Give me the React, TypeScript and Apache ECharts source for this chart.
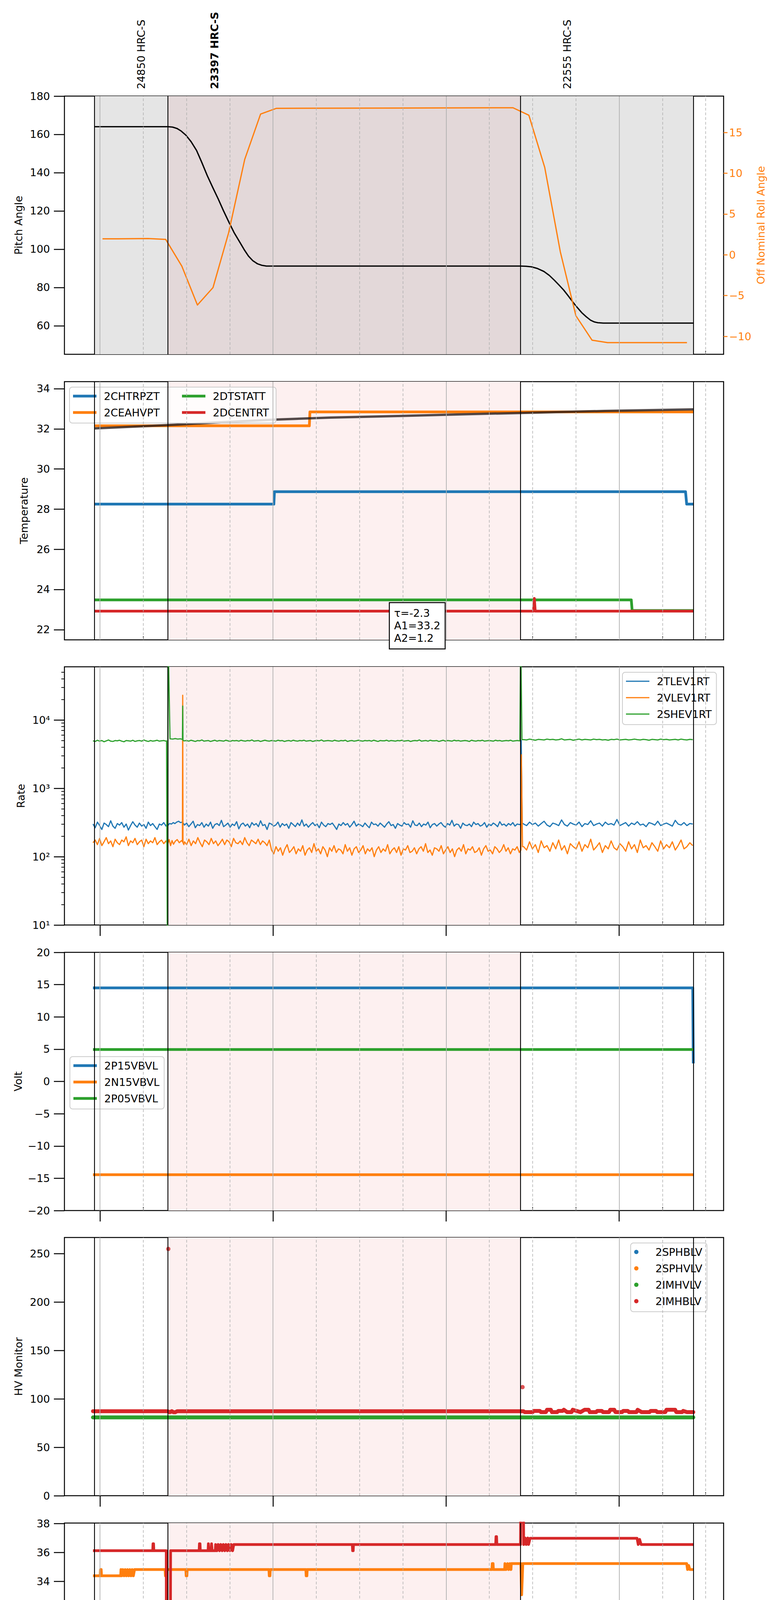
import React, { useEffect, useRef } from "react";
import * as echarts from "echarts";

const FONT = "DejaVu Sans";
const BLUE = "#1f77b4";
const ORANGE = "#ff7f0e";
const GREEN = "#2ca02c";
const RED = "#d62728";

// ---------- time axis: minutes after 15:00 on 2020-10-26 (day 300) ----------
const T_RANGE = [-12.3, 216.2];
const HOUR_TICKS = [0, 60, 120, 180];
const QUARTER_TICKS = [15, 30, 45, 75, 90, 105, 135, 150, 165, 195, 210];
const HOUR_BASE = 15;
const DATE_LABEL = "2020-10-26 (300)";

// ---------- observations ----------
const OBSIDS = ["24850", "23397", "22555"];
const OBS_START = [-1.9, 23.6, 145.8];
const OBS_END = [23.6, 145.8, 205.7];
const FOCUS_OBS = 1;
const OBS_LABEL_SHIFT = 16.2;

// ---------- panel 1: pitch / roll ----------
const PITCH_T = [-1.9, 23.7, 25.2, 26.7, 28.2, 29.8, 31.6, 33.5, 35.3, 37.2, 39.1, 41.0, 42.8, 44.7, 46.5, 48.4, 50.0, 51.5, 53.0, 54.6, 56.1, 57.7, 60.0,
  145.8, 147.7, 149.6, 151.7, 153.9, 155.8, 157.6, 159.2, 160.8, 162.4, 163.9, 165.5, 167.0, 168.6, 170.1, 171.4, 172.6, 174.5, 205.7];
const PITCH_V = [164, 164, 163.8, 163.1, 161.7, 159.6, 156.2, 151.6, 145.4, 138.5, 132.3, 126.3, 120.2, 114.2, 108.7, 103.9, 99.8, 96.4, 94.0, 92.4, 91.6, 91.2, 91.2,
  91.2, 91.1, 90.8, 89.9, 88.4, 86.3, 83.7, 81.2, 78.6, 75.5, 72.5, 69.5, 66.9, 64.7, 62.9, 62.0, 61.6, 61.4, 61.4];
const ROLL_T = [0.9, 6.2, 16.7, 22.8, 28.4, 33.8, 39.2, 44.6, 50.2, 55.7, 61.2, 143.2, 148.7, 154.2, 159.6, 165.0, 170.6, 176.0, 203.5];
const ROLL_V = [1.96, 1.96, 2.0, 1.89, -1.39, -6.16, -4.02, 2.68, 11.7, 17.26, 17.96, 18.03, 17.11, 10.71, 0.37, -7.48, -10.47, -10.77, -10.77];

// ---------- panel 2: temperature ----------
const T_2CHTRPZT = [[-1.9, 28.25], [60.3, 28.25], [60.5, 28.87], [203.0, 28.87], [203.4, 28.25], [205.7, 28.25]];
const T_2CEAHVPT = [[-1.9, 32.15], [72.6, 32.15], [72.8, 32.84], [205.7, 32.84]];
const T_2DTSTATT = [[-1.9, 23.48], [184.2, 23.48], [184.5, 22.95], [205.7, 22.95]];
const T_2DCENTRT = [[-1.9, 22.92], [150.3, 22.92], [150.6, 23.55], [150.9, 22.92], [205.7, 22.92]];
const TEMP_FIT = [[-1.9, 32.02], [10, 32.1], [25.7, 32.2], [40, 32.31], [60.3, 32.46], [80, 32.56], [103.4, 32.64], [125, 32.72], [145.8, 32.79], [175, 32.89], [205.7, 32.97]];
const FIT_TEXT = ["τ=-2.3", "A1=33.2", "A2=1.2"];
const FIT_BOX_T = 100.5;
const FIT_BOX_V = 23.32;

// ---------- panel 3: rates (segments: before, transient, dense, transient, after) ----------
const SEG_A = [-2.4, 22.9];
const SEG_B = [29.3, 145.4];
const SEG_C = [146.9, 205.5];

const RATE_A_BLUE = [300, 265, 320, 285, 250, 310, 295, 275, 335, 280, 260, 305, 290, 315, 270, 300, 245, 285, 325, 290, 270, 310, 280, 295, 260, 320, 285, 305, 275, 250, 300, 290, 315, 280];
const RATE_T1_BLUE = [[23.1, 290], [23.4, 280], [24.1, 305], [24.8, 300], [25.4, 315], [26.0, 305], [26.6, 320], [27.3, 330], [27.9, 315], [28.5, 320], [29.0, 305]];
const RATE_B_BLUE = [
  290, 310, 275, 300, 330, 265, 295, 285, 315, 270,
  300, 280, 320, 260, 295, 305, 285, 340, 275, 290,
  310, 270, 300, 285, 325, 255, 295, 310, 280, 300,
  265, 315, 290, 305, 275, 335, 285, 295, 250, 310,
  300, 280, 290, 320, 270, 305, 285, 300, 260, 315,
  295, 275, 310, 285, 345, 280, 300, 270, 295, 315,
  285, 300, 265, 320, 290, 275, 305, 295, 310, 280,
  250, 300, 285, 315, 290, 305, 270, 295, 330, 280,
  300, 290, 275, 310, 285, 265, 320, 295, 300, 280,
  310, 290, 270, 300, 325, 285, 295, 260, 305, 290,
  280, 315, 295, 300, 270, 335, 290, 285, 310, 275,
  300, 290, 320, 265, 295, 305, 280, 300, 315, 285,
  270, 305, 290, 340, 280, 300, 295, 260, 310, 290,
  285, 300, 275, 320, 295, 305, 280, 290, 315, 270,
  300, 285, 310, 295, 275, 325, 290, 300, 280, 305,
  290, 315, 280, 300, 295];
const RATE_T2_BLUE = [[145.6, 295], [145.9, 300], [146.05, 5000], [146.4, 310]];
const RATE_C_BLUE = [300, 285, 320, 295, 310, 280, 305, 330, 290, 275, 310, 300, 285, 345, 295, 280, 315, 300, 290, 320, 275, 305, 295, 335, 285, 300, 310, 280, 320, 295, 305, 290, 350, 285, 300, 315, 280, 310, 295, 325, 290, 300, 275, 315, 305, 290, 330, 285, 300, 310, 295, 280, 340, 300, 290, 315, 285, 305, 300];

const RATE_A_ORANGE = [160, 175, 150, 185, 145, 165, 190, 155, 170, 140, 180, 160, 150, 175, 165, 195, 145, 170, 160, 185, 150, 165, 175, 140, 180, 155, 170, 160, 190, 150, 165, 175, 155, 170];
const RATE_T1_ORANGE = [[23.1, 165], [23.4, 150], [24.0, 178], [24.5, 145], [25.0, 172], [25.5, 152], [26.1, 168], [26.8, 178], [27.5, 160], [28.3, 172], [28.6, 165], [28.7, 23000], [28.8, 160], [29.1, 150]];
const RATE_B_ORANGE = [
  165, 150, 180, 145, 170, 155, 190, 160, 140, 175,
  165, 150, 185, 155, 170, 145, 160, 180, 150, 175,
  165, 140, 185, 160, 155, 170, 150, 190, 160, 145,
  175, 165, 155, 180, 150, 170, 160, 145, 175,
  125, 110, 140, 120, 135, 105, 130, 150, 115, 125,
  140, 110, 130, 120, 145, 105, 125, 135, 115, 155,
  120, 130, 110, 140, 125, 100, 135, 120, 145, 115,
  130, 125, 110, 150, 120, 135, 105, 130, 140, 115,
  125, 145, 110, 130, 120, 135, 100, 125, 140, 115,
  130, 120, 150, 110, 125, 135, 115, 140, 105, 130,
  125, 145, 115, 120, 135, 110, 130, 140, 120, 155,
  115, 125, 105, 135, 130, 120, 145, 110, 125, 140,
  115, 130, 100, 125, 135, 120, 150, 110, 130, 125,
  140, 115, 120, 135, 105, 130, 145, 120, 125, 110,
  140, 130, 115, 125, 150, 120, 135, 110, 130, 125,
  140, 115];
const RATE_T2_ORANGE = [[145.6, 120], [145.95, 125], [146.1, 3100], [146.5, 140]];
const RATE_C_ORANGE = [140, 125, 165, 130, 150, 115, 170, 135, 145, 120, 160, 130, 175, 125, 145, 110, 155, 140, 130, 165, 120, 150, 135, 180, 125, 140, 160, 115, 145, 130, 170, 135, 125, 155, 140, 120, 165, 130, 150, 115, 175, 135, 145, 125, 160, 140, 120, 170, 130, 150, 135, 165, 125, 145, 175, 130, 140, 160, 145];

const RATE_A_GREEN = [4950, 4850, 5050, 4900, 5000, 4800, 4950, 5100, 4900, 4850, 5000, 4950, 5050, 4900, 4800, 5000, 4950, 4900, 5050, 4850, 4950, 5000, 4900, 5100, 4950, 4850, 5000, 4900, 4950, 5050, 4900, 4950, 5000, 4900];
const RATE_T1_GREEN = [[23.1, 4950], [23.45, 0.5], [23.6, 200000], [24.3, 5300], [25.2, 5250], [26.1, 5350], [27.0, 5250], [27.9, 5300], [28.6, 5200], [28.7, 16000], [28.8, 5050], [29.1, 4950]];
const RATE_B_GREEN = [
  4950, 5000, 4900, 5050, 4950, 4850, 5000, 4950, 5100, 4900,
  4950, 5000, 4850, 4950, 5050, 4900, 5000, 4950, 4900, 5050,
  4950, 4850, 5000, 4950, 5000, 4900, 5050, 4950, 4900, 5000,
  4950, 5100, 4900, 4950, 5000, 4850, 4950, 5050, 4950, 4900,
  5000, 4950, 4900, 5050, 4950, 5000, 4850, 4950, 5000, 4900,
  5050, 4950, 4900, 5000, 4950, 5050, 4900, 4950, 5000, 4850,
  4950, 5000, 4950, 5100, 4900, 4950, 5000, 4950, 4900, 5050,
  4950, 4900, 5000, 4950, 5050, 4850, 4950, 5000, 4900, 4950,
  5050, 4950, 4900, 5000, 4950, 5000, 4900, 5050, 4950, 4850,
  5000, 4950, 4950, 5050, 4900, 5000, 4950, 4900, 5000, 4950,
  5050, 4900, 4950, 5000, 4850, 4950, 5000, 4950, 5100, 4900,
  4950, 5000, 4900, 5050, 4950, 4950, 5000, 4850, 4950, 5050,
  4900, 5000, 4950, 4900, 5050, 4950, 5000, 4900, 4950, 5000,
  4950, 4850, 5050, 4950, 4900, 5000, 4950, 5050, 4900, 4950,
  5000, 4950, 4900, 5050, 4950, 5000, 4900, 4950, 5000, 4950,
  5050, 4900, 4950, 5000, 4950];
const RATE_T2_GREEN = [[145.6, 4950], [145.85, 200000], [146.3, 5150]];
const RATE_C_GREEN = [5150, 5100, 5250, 5150, 5050, 5200, 5150, 5100, 5250, 5150, 5200, 5100, 5150, 5300, 5100, 5150, 5200, 5050, 5150, 5250, 5100, 5200, 5150, 5100, 5250, 5150, 5200, 5100, 5150, 5050, 5200, 5150, 5250, 5100, 5150, 5200, 5100, 5150, 5250, 5150, 5100, 5200, 5150, 5050, 5200, 5150, 5100, 5250, 5150, 5200, 5100, 5150, 5200, 5100, 5250, 5150, 5100, 5200, 5150];
const RATE_TICKS = [10, 100, 1000, 10000];
const RATE_MINOR = [20, 30, 40, 50, 60, 70, 80, 90, 200, 300, 400, 500, 600, 700, 800, 900, 2000, 3000, 4000, 5000, 6000, 7000, 8000, 9000, 20000, 30000, 40000, 50000];

// ---------- panel 4: volt ----------
const V_2P15VBVL = [[-2.4, 14.5], [205.5, 14.5], [205.7, 2.8]];
const V_2N15VBVL = [[-2.4, -14.45], [205.7, -14.45]];
const V_2P05VBVL = [[-2.4, 4.95], [205.7, 4.95]];

// ---------- panel 5: HV monitor ----------
const HV_2SPHBLV: number[][] = [];
const HV_2SPHVLV: number[][] = [];
const HV_2IMHVLV = [[-2.4, 80.9], [205.7, 80.9]];
const HV_2IMHBLV = [[-2.4, 87.3], [23.5, 87.3], [24.2, 86.2], [24.9, 87.3], [25.5, 86.2], [26.1, 86.2], [26.8, 87.3], [145.8, 87.3], [146.8, 87.3], [147.3, 86.3], [150.0, 86.3], [150.4, 87.6], [152.5, 87.6], [152.9, 86.3], [154.6, 86.3], [155.0, 88.8], [156.3, 88.8], [156.7, 86.3], [158.5, 86.3], [158.9, 87.6], [160.4, 87.6], [160.8, 88.8], [162.0, 86.3], [163.5, 86.3], [163.9, 88.8], [165.2, 87.6], [166.6, 86.3], [168.0, 88.8], [169.4, 88.8], [169.8, 86.3], [172.0, 86.3], [172.4, 87.6], [174.0, 87.6], [174.4, 86.3], [176.5, 86.3], [176.9, 88.8], [178.3, 88.8], [178.7, 86.3], [181.0, 86.3], [181.4, 87.6], [183.0, 87.6], [183.4, 86.3], [186.0, 86.3], [186.4, 88.8], [187.8, 86.3], [190.5, 86.3], [190.9, 87.6], [192.8, 87.6], [193.2, 86.3], [196.0, 86.3], [196.4, 88.8], [199.4, 88.8], [199.8, 86.3], [201.8, 86.3], [202.2, 87.6], [203.5, 86.3], [205.7, 86.3]];
const HV_2IMHBLV_OUTLIERS = [[23.7, 254.9], [146.5, 112.2]];

// ---------- panel 6: detector temp ----------
const D_2SPINATM = [[-2.4, 21.69], [205.7, 21.69]];
const D_2SPHVATM = [[-2.4, 34.39], [0.1, 34.39], [0.2, 34.82], [0.45, 34.82], [0.55, 34.39], [7.2, 34.39], [7.3, 34.82], [7.6, 34.39], [8.0, 34.82], [8.4, 34.39], [8.8, 34.82], [9.2, 34.39], [9.6, 34.82], [10.0, 34.39], [10.4, 34.82], [10.8, 34.39], [11.2, 34.82], [11.6, 34.39], [12.0, 34.82], [22.6, 34.82], [22.7, 34.39], [22.95, 34.39], [23.05, 34.82], [29.8, 34.82], [29.9, 34.39], [30.15, 34.39], [30.25, 34.82], [58.6, 34.82], [58.7, 34.39], [58.95, 34.39], [59.05, 34.82], [71.4, 34.82], [71.5, 34.39], [71.75, 34.39], [71.85, 34.82], [135.9, 34.82], [136.0, 35.23], [136.3, 35.23], [136.4, 34.82], [140.3, 34.82], [140.4, 35.23], [140.8, 34.82], [141.3, 35.23], [141.7, 34.82], [142.1, 35.23], [142.5, 34.82], [142.6, 35.23], [145.9, 35.23], [146.2, 33.08], [146.6, 35.23], [203.4, 35.23], [203.7, 34.82], [204.1, 35.1], [204.5, 34.82], [205.7, 34.82]];
const D_2IMINATM = [[-2.4, 23.15], [24.3, 23.15], [24.4, 19], [24.55, 19], [24.65, 23.15], [146.2, 23.15], [146.3, 19], [146.7, 19], [146.8, 23.15], [205.7, 23.15]];
const D_2IMHVATM = [[-2.4, 36.12], [18.3, 36.12], [18.4, 36.6], [18.6, 36.6], [18.7, 36.12], [23.0, 36.12], [23.1, 19], [24.3, 19], [24.5, 36.12], [34.4, 36.12], [34.5, 36.6], [34.7, 36.6], [34.8, 36.12], [37.5, 36.12], [37.6, 36.6], [37.8, 36.12], [38.6, 36.12], [38.7, 36.6], [38.9, 36.12], [40.0, 36.12], [40.1, 36.55], [40.6, 36.12], [41.0, 36.55], [41.5, 36.12], [41.9, 36.55], [42.4, 36.12], [42.8, 36.55], [43.3, 36.12], [43.7, 36.55], [44.2, 36.12], [44.6, 36.55], [45.1, 36.12], [45.5, 36.55], [46.0, 36.12], [46.4, 36.55], [87.5, 36.55], [87.6, 36.12], [87.8, 36.12], [87.9, 36.55], [137.2, 36.55], [137.3, 37.09], [137.5, 37.09], [137.6, 36.55], [145.8, 36.55], [145.9, 40], [146.8, 40], [146.9, 36.55], [147.4, 37.0], [147.8, 36.55], [148.3, 37.0], [148.6, 36.55], [149.1, 36.98], [186.2, 36.98], [186.6, 36.55], [187.1, 36.9], [187.6, 36.55], [205.7, 36.55]];

// ---------- panel 7: FEA temp ----------
const F_2FHTRMZT = [[-2.4, 26.39], [82.8, 26.39], [83.1, 25.79], [125.0, 25.79], [125.3, 25.21], [168.8, 25.21], [169.1, 24.63], [180.1, 24.63], [180.3, 25.21], [181.3, 25.21], [181.5, 24.63], [182.0, 24.63], [182.2, 25.21], [205.9, 25.21]];
const F_2FRADPYT = [[-2.4, 21.81], [55.4, 21.81], [55.6, 21.28], [68.5, 21.28], [68.7, 20.75], [87.3, 20.75], [87.5, 20.21], [114.3, 20.21], [114.5, 19.69], [147.8, 19.69], [148.1, 19.18], [167.2, 19.18], [167.4, 19.69], [176.3, 19.69], [176.5, 20.21], [193.5, 20.21], [193.7, 20.74], [205.9, 20.74]];
const F_2FEPRATM = [[-2.4, 27.75], [23.5, 27.75], [23.6, 31], [24.3, 15], [24.4, 27.75], [83.9, 27.75], [84.0, 26.95], [84.2, 26.95], [84.3, 27.75], [88.0, 27.75], [88.1, 26.95], [88.5, 27.75], [88.9, 26.95], [89.3, 27.75], [89.6, 26.95], [145.9, 26.95], [146.0, 31], [147.0, 31], [147.1, 26.95], [159.4, 26.95], [159.7, 26.17], [205.7, 26.17]];
const F_2FE00ATM = [[-2.4, 25.28], [19.2, 25.28], [19.3, 25.65], [19.5, 25.65], [19.6, 25.28], [23.0, 25.28], [23.1, 15], [24.5, 15], [24.6, 25.28], [43.6, 25.28], [43.7, 25.65], [43.9, 25.65], [44.0, 25.28], [45.1, 25.28], [45.2, 24.93], [45.4, 24.93], [45.5, 25.28], [48.8, 25.28], [48.9, 25.65], [49.1, 25.65], [49.2, 25.28], [70.2, 25.28], [70.3, 24.93], [70.5, 24.93], [70.6, 25.28], [73.0, 25.28], [73.1, 23.94], [73.3, 23.94], [73.4, 25.28], [80.8, 25.28], [80.9, 24.59], [81.1, 24.59], [81.2, 25.28], [84.0, 25.28], [84.1, 24.95], [84.6, 25.28], [85.2, 24.95], [85.6, 25.28], [85.8, 24.95], [89.3, 24.95], [89.4, 25.28], [90.0, 25.28], [90.1, 24.95], [93.2, 24.95], [93.3, 25.65], [93.5, 24.95], [95.1, 24.95], [95.2, 25.28], [95.4, 24.95], [102.3, 24.95], [102.4, 22.63], [102.6, 22.63], [102.7, 24.95], [113.7, 24.95], [113.8, 24.61], [114.3, 24.95], [115.0, 24.61], [115.5, 24.95], [116.3, 24.95], [116.4, 24.61], [118.2, 24.61], [118.3, 25.65], [118.5, 24.61], [122.2, 24.61], [122.3, 25.0], [122.5, 24.61], [141.2, 24.61], [141.3, 24.29], [141.5, 24.61], [142.9, 24.61], [143.0, 24.29], [143.2, 24.61], [145.5, 24.61], [145.6, 24.29], [145.9, 24.29], [146.0, 15], [146.9, 15], [147.0, 24.29], [150.8, 24.29], [151.2, 24.95], [151.6, 24.29], [205.7, 24.29]];

// ---------- y axes per panel ----------
const PANEL_Y = [
  { name: "Pitch Angle", min: 45.1, max: 180, ticks: [60, 80, 100, 120, 140, 160, 180], gap: 104 },
  { name: "Temperature", min: 21.49, max: 34.35, ticks: [22, 24, 26, 28, 30, 32, 34], gap: 90 },
  { name: "Rate", min: 10, max: 60000, ticks: RATE_TICKS, gap: 98 },
  { name: "Volt", min: -20, max: 20, ticks: [-20, -15, -10, -5, 0, 5, 10, 15, 20], gap: 103 },
  { name: "HV Monitor", min: 0, max: 266.7, ticks: [0, 50, 100, 150, 200, 250], gap: 104 },
  { name: "Detector Temp", min: 20.21, max: 38.03, ticks: [22, 24, 26, 28, 30, 32, 34, 36, 38], gap: 87 },
  { name: "FEA Temp", min: 18.19, max: 29.26, ticks: [20, 22, 24, 26, 28], gap: 85 },
];
const ROLL_Y = { name: "Off Nominal Roll Angle", min: -12.2, max: 19.46, ticks: [-10, -5, 0, 5, 10, 15], gap: 80 };

// layout
const GRID_LEFT = 165;
const GRID_W = 1688;
const GRID_H = 661;
const GRID_TOP = [246, 977, 1707, 2438, 3168, 3899, 4629];

const SUP = ["⁰", "¹", "²", "³", "⁴", "⁵", "⁶"];
const fmtNum = (v: number) => (v < 0 ? "\u2212" + Math.abs(v) : String(v));
const sampled = (range: number[], vals: number[]) => {
  const st = (range[1] - range[0]) / (vals.length - 1);
  return vals.map((v, i) => [range[0] + i * st, v]);
};
const pairs = (t: number[], v: number[]) => t.map((x, i) => [x, v[i]]);
const NO_LINE = { show: false, onZero: false };

function buildOption() {
  const grid = GRID_TOP.map((top) => ({
    left: GRID_LEFT, top, width: GRID_W, height: GRID_H,
    show: true, borderColor: "#000", borderWidth: 2.5, backgroundColor: "rgba(0,0,0,0)",
    containLabel: false, outerBoundsMode: "none",
  }));

  const xAxis: any[] = [];
  GRID_TOP.forEach((_, i) => {
    const last = i === GRID_TOP.length - 1;
    xAxis.push({
      type: "value", gridIndex: i, min: T_RANGE[0], max: T_RANGE[1], position: "bottom",
      axisLine: NO_LINE, splitLine: { show: false },
      axisTick: { show: i >= 2, customValues: HOUR_TICKS, length: 28, inside: false, lineStyle: { color: "#000", width: 2.5 } },
      axisLabel: { show: last, customValues: HOUR_TICKS, formatter: (v: number) => `${HOUR_BASE + v / 60}h`, fontSize: 27, fontFamily: FONT, color: "#000", margin: 36 },
      name: last ? DATE_LABEL : "", nameLocation: "middle", nameGap: 70,
      nameTextStyle: { fontSize: 32, fontFamily: FONT, color: "#000" },
    });
    xAxis.push({
      type: "value", gridIndex: i, min: T_RANGE[0], max: T_RANGE[1], position: "bottom",
      axisLine: NO_LINE, splitLine: { show: false },
      axisTick: { show: true, customValues: QUARTER_TICKS, length: 9, inside: true, lineStyle: { color: "#000", width: 1.8 } },
      axisLabel: { show: last, customValues: QUARTER_TICKS, formatter: (v: number) => String(v % 60), fontSize: 18, fontFamily: FONT, color: "#000", margin: 6 },
    });
  });

  const yAxis: any[] = [];
  const mainY: number[] = [];
  PANEL_Y.forEach((p, i) => {
    mainY.push(yAxis.length);
    const isLog = i === 2;
    yAxis.push({
      type: isLog ? "log" : "value", logBase: 10, gridIndex: i, min: p.min, max: p.max, position: "left",
      axisLine: NO_LINE, splitLine: { show: false },
      axisTick: { show: true, customValues: p.ticks, length: 27, lineStyle: { color: "#000", width: 2.5 } },
      axisLabel: {
        customValues: p.ticks, fontSize: 27, fontFamily: FONT, color: "#000", margin: 37,
        formatter: isLog ? (v: number) => "10" + SUP[Math.round(Math.log10(v))] : fmtNum,
      },
      name: p.name, nameLocation: "middle", nameGap: p.gap,
      nameTextStyle: { fontSize: 27, fontFamily: FONT, color: "#000" },
    });
    if (i === 0) {
      yAxis.push({
        type: "value", gridIndex: 0, min: ROLL_Y.min, max: ROLL_Y.max, position: "right",
        axisLine: NO_LINE, splitLine: { show: false },
        axisTick: { show: true, customValues: ROLL_Y.ticks, length: 10, lineStyle: { color: ORANGE, width: 2.5 } },
        axisLabel: { customValues: ROLL_Y.ticks, fontSize: 27, fontFamily: FONT, color: ORANGE, margin: 14, formatter: fmtNum },
        name: ROLL_Y.name, nameLocation: "middle", nameGap: ROLL_Y.gap, nameRotate: 90,
        nameTextStyle: { fontSize: 27, fontFamily: FONT, color: ORANGE },
      });
    }
    if (isLog) {
      yAxis.push({
        type: "log", logBase: 10, gridIndex: i, min: p.min, max: p.max, position: "left",
        axisLine: NO_LINE, splitLine: { show: false },
        axisTick: { show: true, customValues: RATE_MINOR, length: 8, lineStyle: { color: "#000", width: 1.8 } },
        axisLabel: { show: false },
      });
    }
  });

  const series: any[] = [];
  const bounds = Array.from(new Set([...OBS_START, ...OBS_END]));
  GRID_TOP.forEach((_, i) => {
    const areas = i === 0
      ? OBSIDS.map((_o, k) => [{ xAxis: OBS_START[k], itemStyle: { color: k === FOCUS_OBS ? "#e3d8d9" : "#e5e5e5" } }, { xAxis: OBS_END[k] }])
      : [[{ xAxis: OBS_START[FOCUS_OBS], itemStyle: { color: "#fdf0f0" } }, { xAxis: OBS_END[FOCUS_OBS] }]];
    series.push({
      type: "line", xAxisIndex: 2 * i, yAxisIndex: mainY[i], data: [], silent: true, z: 1,
      markArea: { silent: true, data: areas, label: { show: false } },
    });
    series.push({
      type: "line", xAxisIndex: 2 * i, yAxisIndex: mainY[i], data: [], silent: true, z: 2,
      markLine: {
        silent: true, symbol: ["none", "none"], label: { show: false },
        data: [
          ...QUARTER_TICKS.map((t) => ({ xAxis: t, lineStyle: { color: "#b0b0b0", width: 1.5, type: [7, 5] } })),
          ...HOUR_TICKS.map((t) => ({ xAxis: t, lineStyle: { color: "#b0b0b0", width: 1.8, type: "solid" } })),
          ...bounds.map((t) => ({ xAxis: t, lineStyle: { color: "#000", width: 2.2, type: "solid" } })),
        ],
      },
    });
  });

  const line = (name: string, data: any[], color: string, width: number, gi: number, yi: number, extra: any = {}) => ({
    name, type: "line", xAxisIndex: 2 * gi, yAxisIndex: yi, data, symbol: "none", showSymbol: false,
    lineStyle: { color, width, join: "round" }, itemStyle: { color }, z: 3, silent: true,
    emphasis: { disabled: true }, ...extra,
  });

  // panel 1
  series.push(line("Pitch", pairs(PITCH_T, PITCH_V), "#000", 3.4, 0, 0));
  series.push(line("Roll", pairs(ROLL_T, ROLL_V), ORANGE, 3.2, 0, 1));
  // panel 2
  const W = 7;
  series.push(line("2CHTRPZT", T_2CHTRPZT, BLUE, W, 1, mainY[1]));
  series.push(line("2CEAHVPT", T_2CEAHVPT, ORANGE, W, 1, mainY[1]));
  series.push(line("2DTSTATT", T_2DTSTATT, GREEN, W, 1, mainY[1]));
  series.push(line("2DCENTRT", T_2DCENTRT, RED, W, 1, mainY[1]));
  series.push(line("fit", TEMP_FIT, "rgba(40,30,30,0.8)", 6, 1, mainY[1]));
  // panel 3
  const rate = (a: number[], t1: number[][], b: number[], t2: number[][], c: number[]) =>
    [...sampled(SEG_A, a), ...t1, ...sampled(SEG_B, b), ...t2, ...sampled(SEG_C, c)];
  series.push(line("2TLEV1RT", rate(RATE_A_BLUE, RATE_T1_BLUE, RATE_B_BLUE, RATE_T2_BLUE, RATE_C_BLUE), BLUE, 3, 2, mainY[2]));
  series.push(line("2VLEV1RT", rate(RATE_A_ORANGE, RATE_T1_ORANGE, RATE_B_ORANGE, RATE_T2_ORANGE, RATE_C_ORANGE), ORANGE, 3, 2, mainY[2]));
  series.push(line("2SHEV1RT", rate(RATE_A_GREEN, RATE_T1_GREEN, RATE_B_GREEN, RATE_T2_GREEN, RATE_C_GREEN), GREEN, 3, 2, mainY[2]));
  // panel 4
  series.push(line("2P15VBVL", V_2P15VBVL, BLUE, W, 3, mainY[3]));
  series.push(line("2N15VBVL", V_2N15VBVL, ORANGE, W, 3, mainY[3]));
  series.push(line("2P05VBVL", V_2P05VBVL, GREEN, W, 3, mainY[3]));
  // panel 5
  const hv = (name: string, data: any[], color: string) => ({
    ...line(name, data, color, 10, 4, mainY[4]),
    lineStyle: { color, width: 10, cap: "round", join: "round" },
  });
  series.push(hv("2SPHBLV", HV_2SPHBLV, BLUE));
  series.push(hv("2SPHVLV", HV_2SPHVLV, ORANGE));
  series.push(hv("2IMHVLV", HV_2IMHVLV, GREEN));
  series.push(hv("2IMHBLV", HV_2IMHBLV, RED));
  series.push({
    name: "2IMHBLV", type: "scatter", xAxisIndex: 8, yAxisIndex: mainY[4], data: HV_2IMHBLV_OUTLIERS,
    symbol: "circle", symbolSize: 11, itemStyle: { color: RED }, z: 4, silent: true,
  });
  // panel 6
  series.push(line("2SPINATM", D_2SPINATM, BLUE, W, 5, mainY[5]));
  series.push(line("2SPHVATM", D_2SPHVATM, ORANGE, W, 5, mainY[5]));
  series.push(line("2IMINATM", D_2IMINATM, GREEN, W, 5, mainY[5]));
  series.push(line("2IMHVATM", D_2IMHVATM, RED, W, 5, mainY[5]));
  // panel 7
  series.push(line("2FHTRMZT", F_2FHTRMZT, BLUE, W, 6, mainY[6]));
  series.push(line("2FRADPYT", F_2FRADPYT, ORANGE, W, 6, mainY[6]));
  series.push(line("2FEPRATM", F_2FEPRATM, GREEN, W, 6, mainY[6]));
  series.push(line("2FE00ATM", F_2FE00ATM, RED, W, 6, mainY[6]));

  const legendBase = {
    itemWidth: 60, itemHeight: 7, itemGap: 10, padding: [7, 12, 11, 9], icon: "rect",
    backgroundColor: "rgba(255,255,255,0.8)", borderColor: "#cccccc", borderWidth: 2, borderRadius: 7,
    selectedMode: false,
    textStyle: { fontSize: 27, fontFamily: FONT, color: "#000", lineHeight: 32, padding: [0, 0, 0, 14] },
  };
  const legend = [
    {
      ...legendBase, left: 178, top: 991, orient: "horizontal", width: 540,
      data: [
        { name: "2CHTRPZT", textStyle: { width: 190 } },
        { name: "2DTSTATT", textStyle: { width: 150 } },
        { name: "2CEAHVPT", textStyle: { width: 190 } },
        { name: "2DCENTRT", textStyle: { width: 150 } },
      ],
    },
    { ...legendBase, left: 1594, top: 1721, orient: "vertical", itemHeight: 3.2, data: ["2TLEV1RT", "2VLEV1RT", "2SHEV1RT"] },
    { ...legendBase, left: 179, top: 2705, orient: "vertical", data: ["2P15VBVL", "2N15VBVL", "2P05VBVL"] },
    { ...legendBase, left: 1615, top: 3182, orient: "vertical", icon: "circle", itemHeight: 11, data: ["2SPHBLV", "2SPHVLV", "2IMHVLV", "2IMHBLV"] },
    { ...legendBase, left: 1592, top: 4141, orient: "vertical", data: ["2SPINATM", "2SPHVATM", "2IMINATM", "2IMHVATM"] },
    { ...legendBase, left: 179, top: 5101, orient: "vertical", data: ["2FHTRMZT", "2FRADPYT", "2FEPRATM", "2FE00ATM"] },
  ];

  return {
    option: {
      animation: false,
      backgroundColor: "#fff",
      textStyle: { fontFamily: FONT },
      grid, xAxis, yAxis, series, legend,
    },
    mainY,
  };
}

export default function App() {
  const ref = useRef<HTMLDivElement>(null);
  useEffect(() => {
    if (!ref.current) return;
    document.body.style.margin = "0";
    const chart = echarts.init(ref.current, null, { renderer: "svg", width: 2000, height: 5400 });
    const { option, mainY } = buildOption();
    chart.setOption(option);

    const xPix = (t: number) => chart.convertToPixel({ xAxisIndex: 0 }, t) as number;
    const yPix = (yi: number, v: number) => chart.convertToPixel({ yAxisIndex: yi }, v) as number;
    const topY = yPix(mainY[0], PANEL_Y[0].max);
    const graphic: any[] = OBSIDS.map((id, k) => ({
      type: "text", z: 100,
      x: xPix(OBS_START[k] + OBS_LABEL_SHIFT), y: topY - 18, rotation: Math.PI / 2,
      style: {
        text: `${id} HRC-S`, fontSize: 27, fontFamily: FONT, fontWeight: k === FOCUS_OBS ? "bold" : "normal",
        fill: "#000", align: "left", verticalAlign: "middle",
      },
    }));
    graphic.push({
      type: "text", z: 100,
      x: chart.convertToPixel({ xAxisIndex: 2 }, FIT_BOX_T) as number,
      y: yPix(mainY[1], FIT_BOX_V),
      style: {
        text: FIT_TEXT.join("\n"), fontSize: 27, fontFamily: FONT, lineHeight: 32, fill: "#000",
        backgroundColor: "#fff", borderColor: "#000", borderWidth: 2.5, padding: [10, 11, 10, 11],
        align: "left", verticalAlign: "top",
      },
    });
    chart.setOption({ graphic });
    return () => chart.dispose();
  }, []);
  return <div ref={ref} style={{ width: 2000, height: 5400, background: "#fff" }} />;
}
